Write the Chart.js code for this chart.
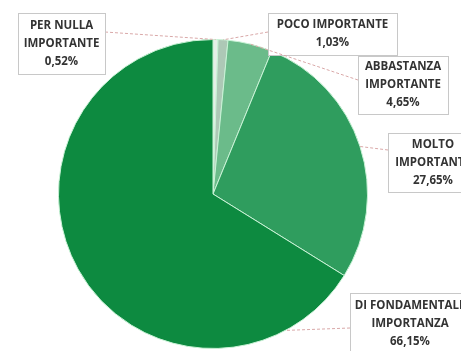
<!DOCTYPE html>
<html>
<head>
<meta charset="utf-8">
<script src="https://cdn.jsdelivr.net/npm/chart.js@4"></script>
<style>
  html, body { margin: 0; padding: 0; background: #fff; }
  #wrap { width: 461px; height: 351px; position: relative; }
</style>
</head>
<body>
<div id="wrap"><canvas id="pieChart" width="461" height="351"></canvas></div>
<script>
// dati
const categories = ['PER NULLA IMPORTANTE', 'POCO IMPORTANTE', 'ABBASTANZA IMPORTANTE', 'MOLTO IMPORTANTE', 'DI FONDAMENTALE IMPORTANZA'];
const percentages = [0.52, 1.03, 4.65, 27.65, 66.15];
const labelLines = [
  ['PER NULLA', 'IMPORTANTE', '0,52%'],
  ['POCO IMPORTANTE', '1,03%'],
  ['ABBASTANZA', 'IMPORTANTE', '4,65%'],
  ['MOLTO', 'IMPORTANTE', '27,65%'],
  ['DI FONDAMENTALE', 'IMPORTANZA', '66,15%']
];
const sliceColors = ['#e6efe8', '#adc8b6', '#6bbb8a', '#2f9d5e', '#0d8a40'];

// posizione dei riquadri etichetta e punto di aggancio (angolo dalle ore 12, in gradi)
const boxes = [
  { x: 18, y: 13, w: 87, h: 61, ax: 105, ay: 32 },
  { x: 268, y: 13, w: 129, h: 42, ax: 268, ay: 32 },
  { x: 358, y: 56, w: 90, h: 58, ax: 358, ay: 80 },
  { x: 388, y: 133, w: 90, h: 59, ax: 388, ay: 150 },
  { x: 350, y: 293, w: 120, h: 62, ax: 350, ay: 328, angle: 152 }
];

const calloutPlugin = {
  id: 'callouts',
  afterDatasetsDraw(chart) {
    const ctx = chart.ctx;
    const arcs = chart.getDatasetMeta(0).data;
    ctx.save();
    arcs.forEach((arc, i) => {
      const b = boxes[i];
      let mid = (arc.startAngle + arc.endAngle) / 2;
      if (b.angle !== undefined) mid = (b.angle - 90) * Math.PI / 180;
      const px = arc.x + Math.cos(mid) * arc.outerRadius;
      const py = arc.y + Math.sin(mid) * arc.outerRadius;
      // linea di richiamo
      ctx.strokeStyle = '#d9a8a8';
      ctx.lineWidth = 1;
      ctx.setLineDash([3, 2]);
      ctx.beginPath();
      ctx.moveTo(b.ax, b.ay);
      ctx.lineTo(px, py);
      ctx.stroke();
      ctx.setLineDash([]);
      // riquadro
      ctx.fillStyle = '#ffffff';
      ctx.fillRect(b.x, b.y, b.w, b.h);
      ctx.strokeStyle = '#c8c8c8';
      ctx.strokeRect(b.x + 0.5, b.y + 0.5, b.w, b.h);
      // testo
      const lines = labelLines[i];
      ctx.fillStyle = '#333333';
      ctx.font = 'bold 11.5px "Open Sans", sans-serif';
      ctx.textAlign = 'center';
      ctx.textBaseline = 'middle';
      const lh = 18;
      const top = b.y + b.h / 2 - (lines.length - 1) * lh / 2;
      lines.forEach((t, k) => ctx.fillText(t, b.x + b.w / 2, top + k * lh));
    });
    ctx.restore();
  }
};

new Chart(document.getElementById('pieChart'), {
  type: 'pie',
  data: {
    labels: categories,
    datasets: [{
      data: percentages,
      backgroundColor: sliceColors,
      borderColor: '#c9f2d6',
      borderWidth: 1
    }]
  },
  options: {
    responsive: false,
    animation: false,
    layout: { padding: { left: 58, right: 93, top: 39, bottom: 2 } },
    plugins: {
      legend: { display: false },
      tooltip: { enabled: false }
    }
  },
  plugins: [calloutPlugin]
});
</script>
</body>
</html>
